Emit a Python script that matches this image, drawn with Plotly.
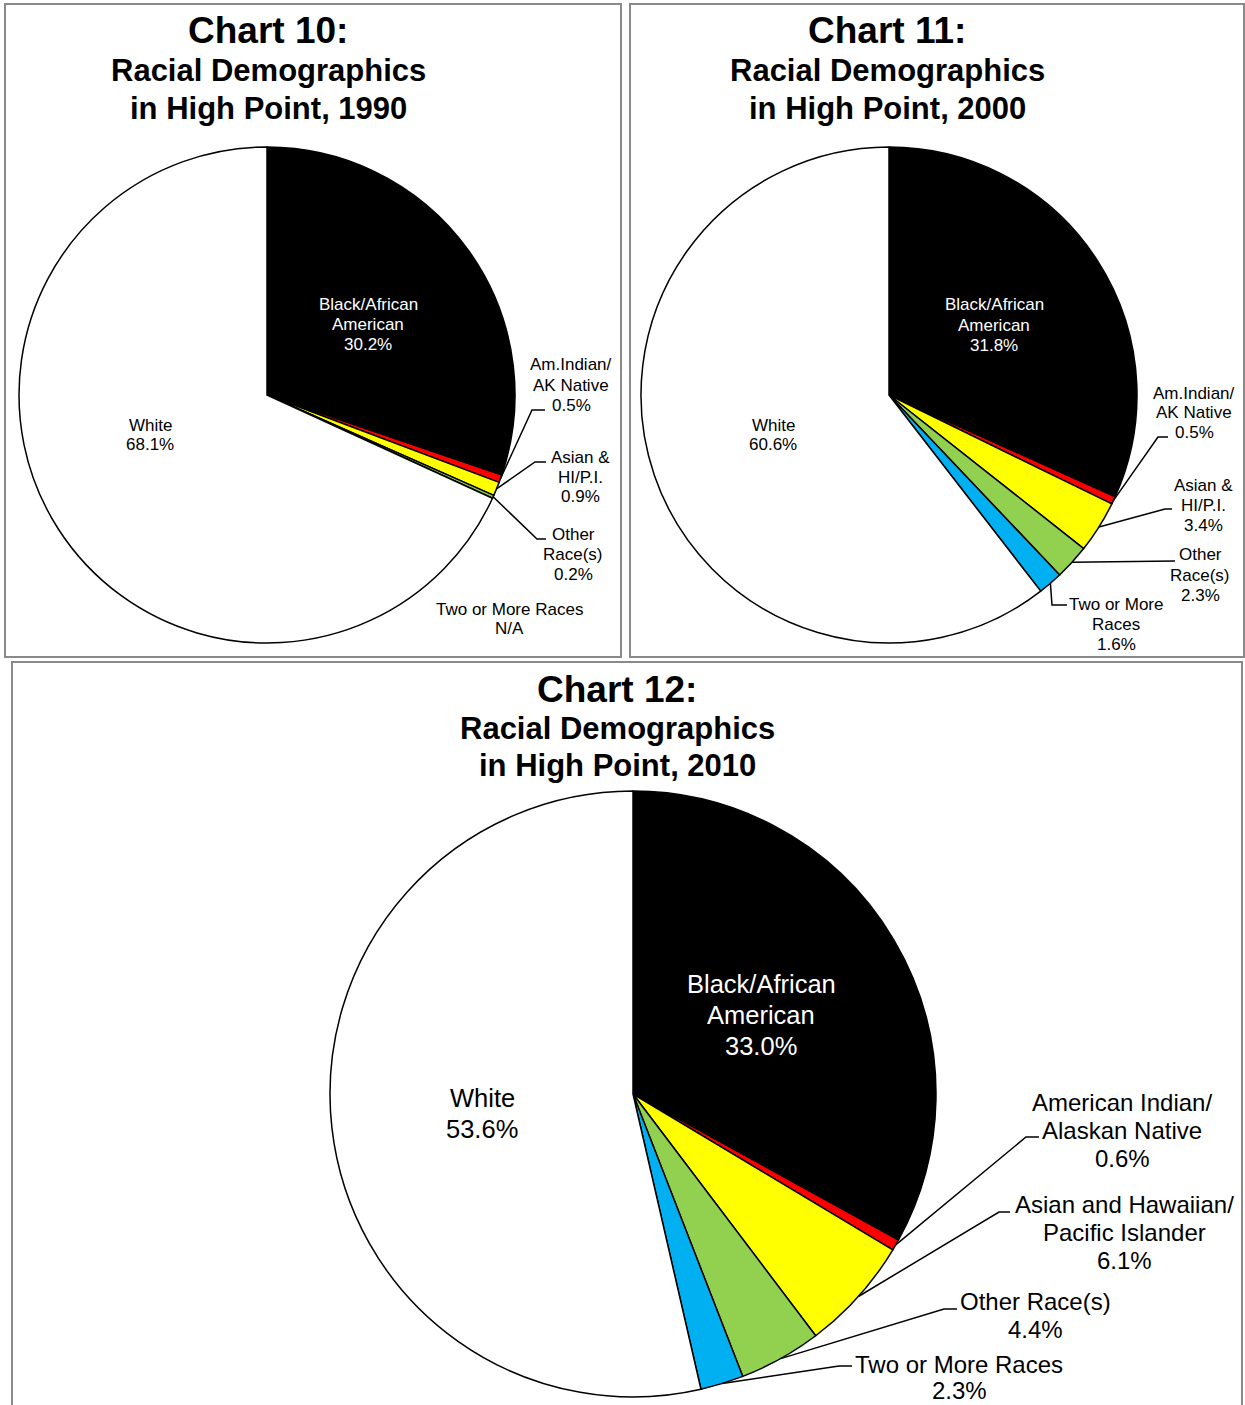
import math
import plotly.graph_objects as go

W, H = 1245, 1405
FONT = "Liberation Sans, Arial, sans-serif"

# Racial groups, in slice order (clockwise from 12 o'clock)
categories = [
    "Black/African American",
    "American Indian/Alaskan Native",
    "Asian and Hawaiian/Pacific Islander",
    "Other Race(s)",
    "Two or More Races",
    "White",
]
slice_colors = ["#000000", "#FF0000", "#FFFF00", "#92D050", "#00B0F0", "#FFFFFF"]

# Share of population (%) by census year; None = category not reported
pct_1990 = [30.2, 0.5, 0.9, 0.2, None, 68.1]
pct_2000 = [31.8, 0.5, 3.4, 2.3, 1.6, 60.6]
pct_2010 = [33.0, 0.6, 6.1, 4.4, 2.3, 53.6]

titles = [
    ["Chart 10:", "Racial Demographics", "in High Point, 1990"],
    ["Chart 11:", "Racial Demographics", "in High Point, 2000"],
    ["Chart 12:", "Racial Demographics", "in High Point, 2010"],
]


def fx(x):
    return x / W


def fy(y):
    return 1 - y / H


def pct(v):
    return "N/A" if v is None else f"{v:.1f}%"


def domain(cx, cy, r):
    return dict(x=[(cx - r) / W, (cx + r) / W], y=[1 - (cy + r) / H, 1 - (cy - r) / H])


def edge_point(vals, i, cx, cy, r):
    """Point on the rim at the middle of slice i."""
    vs = [v or 0 for v in vals]
    total = sum(vs)
    mid = (sum(vs[:i]) + vs[i] / 2) / total * 2 * math.pi
    return cx + r * math.sin(mid), cy - r * math.cos(mid)


fig = go.Figure()


def add_text(x, y0, lines, size, color="#000000", step=None, bold=False):
    step = step or size * 1.17
    for k, line in enumerate(lines):
        fig.add_annotation(
            x=fx(x), y=fy(y0 + k * step), xref="paper", yref="paper",
            text=f"<b>{line}</b>" if bold else line, showarrow=False,
            xanchor="center", yanchor="middle",
            font=dict(family=FONT, size=size, color=color),
        )


def add_leader(start, waypoints, width=1.5):
    pts = [start] + waypoints
    path = "M " + " L ".join(f"{fx(x):.6f},{fy(y):.6f}" for x, y in pts)
    fig.add_shape(type="path", path=path, xref="paper", yref="paper",
                  line=dict(color="black", width=width))


def add_panel(x0, y0, x1, y1):
    fig.add_shape(type="rect", xref="paper", yref="paper",
                  x0=fx(x0), x1=fx(x1), y0=fy(y1), y1=fy(y0),
                  line=dict(color="#8a8a8a", width=2), fillcolor="rgba(0,0,0,0)")


def add_pie(vals, cx, cy, r):
    keep = [i for i, v in enumerate(vals) if v is not None]
    fig.add_trace(go.Pie(
        labels=[categories[i] for i in keep],
        values=[vals[i] for i in keep],
        marker=dict(colors=[slice_colors[i] for i in keep],
                    line=dict(color="black", width=1.5)),
        sort=False, direction="clockwise", rotation=0,
        textinfo="none", hoverinfo="label+percent", showlegend=False,
        domain=domain(cx, cy, r),
    ))


# Panel frames
add_panel(5, 4, 621, 657)
add_panel(630, 4, 1244, 657)
add_panel(12, 662, 1242, 1412)

# ---- Chart 10 (1990) ----
cx, cy, r = 267, 395, 248
add_pie(pct_1990, cx, cy, r)
add_text(268, 31, [titles[0][0]], 37, bold=True)
add_text(268, 71, titles[0][1:], 31, step=37, bold=True)
add_text(368, 305, ["Black/African", "American", pct(pct_1990[0])], 17, "#FFFFFF", step=19.5)
add_text(150, 425, ["White", pct(pct_1990[5])], 17, step=19)
add_text(571, 365, ["Am.Indian/", "AK Native", pct(pct_1990[1])], 17, step=20)
add_leader(edge_point(pct_1990, 1, cx, cy, r), [(532, 410), (545, 410)])
add_text(580, 457, ["Asian &", "HI/P.I.", pct(pct_1990[2])], 17, step=20)
add_leader(edge_point(pct_1990, 2, cx, cy, r), [(535, 462), (546, 462)])
add_text(573, 534, ["Other", "Race(s)", pct(pct_1990[3])], 17, step=20)
add_leader(edge_point(pct_1990, 3, cx, cy, r), [(537, 539), (546, 539)])
add_text(509, 609, ["Two or More Races", pct(pct_1990[4])], 17, step=20)

# ---- Chart 11 (2000) ----
cx, cy, r = 889, 395, 248
add_pie(pct_2000, cx, cy, r)
add_text(887, 31, [titles[1][0]], 37, bold=True)
add_text(887, 71, titles[1][1:], 31, step=37, bold=True)
add_text(994, 305, ["Black/African", "American", pct(pct_2000[0])], 17, "#FFFFFF", step=20)
add_text(773, 425, ["White", pct(pct_2000[5])], 17, step=20)
add_text(1194, 393, ["Am.Indian/", "AK Native", pct(pct_2000[1])], 17, step=20)
add_leader(edge_point(pct_2000, 1, cx, cy, r), [(1158, 437), (1168, 437)])
add_text(1203, 485, ["Asian &", "HI/P.I.", pct(pct_2000[2])], 17, step=20)
add_leader(edge_point(pct_2000, 2, cx, cy, r), [(1165, 509), (1172, 509)])
add_text(1200, 555, ["Other", "Race(s)", pct(pct_2000[3])], 17, step=20)
add_leader(edge_point(pct_2000, 3, cx, cy, r), [(1175, 561)])
add_text(1116, 604, ["Two or More", "Races", pct(pct_2000[4])], 17, step=20)
add_leader(edge_point(pct_2000, 4, cx, cy, r), [(1052, 605), (1067, 605)])

# ---- Chart 12 (2010) ----
cx, cy, r = 633, 1094, 303
add_pie(pct_2010, cx, cy, r)
add_text(617, 689, [titles[2][0]], 37, bold=True)
add_text(617, 729, titles[2][1:], 31, step=37, bold=True)
add_text(761, 984, ["Black/African", "American", pct(pct_2010[0])], 25.5, "#FFFFFF", step=31)
add_text(482, 1098, ["White", pct(pct_2010[5])], 25.5, step=31)
add_text(1122, 1102, ["American Indian/", "Alaskan Native", pct(pct_2010[1])], 24, step=28)
add_leader(edge_point(pct_2010, 1, cx, cy, r), [(1026, 1137), (1039, 1137)])
add_text(1124, 1204, ["Asian and Hawaiian/", "Pacific Islander", pct(pct_2010[2])], 24, step=28)
add_leader(edge_point(pct_2010, 2, cx, cy, r), [(999, 1212), (1010, 1212)])
add_text(1035, 1301, ["Other Race(s)", pct(pct_2010[3])], 24, step=28)
add_leader(edge_point(pct_2010, 3, cx, cy, r), [(944, 1309), (957, 1309)])
add_text(959, 1364, ["Two or More Races", pct(pct_2010[4])], 24, step=26.5)
add_leader(edge_point(pct_2010, 4, cx, cy, r), [(839, 1366), (852, 1366)])

fig.update_layout(
    width=W, height=H,
    margin=dict(l=0, r=0, t=0, b=0),
    paper_bgcolor="white", plot_bgcolor="white",
    font=dict(family=FONT),
)

fig.write_html("out.html")
